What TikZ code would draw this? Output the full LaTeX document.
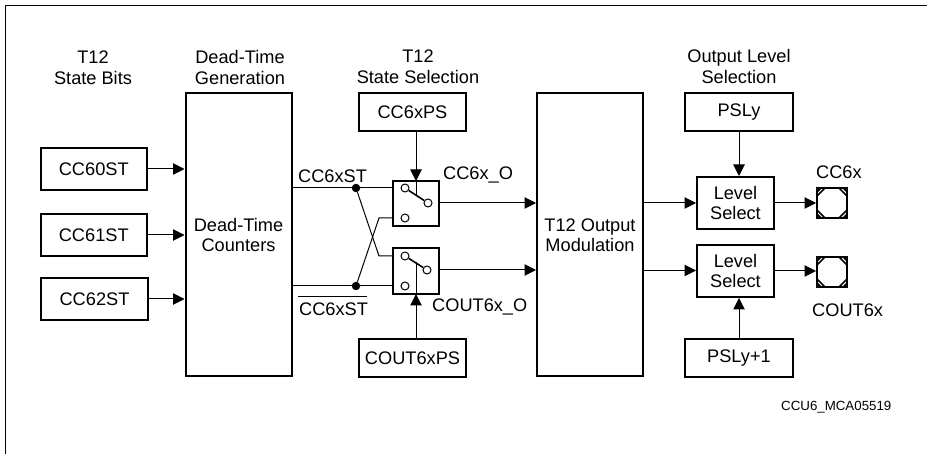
\documentclass[tikz,border=0pt]{standalone}
\usepackage{fontspec}
\setmainfont{Liberation Sans}
\usetikzlibrary{arrows.meta}
\tikzset{
  x=1pt,y=-1pt,
  lab/.style={inner sep=0pt,align=center,font=\fontsize{18.2}{20.5}\selectfont},
  box/.style={draw,line width=2pt,inner sep=0pt,font=\fontsize{18.2}{20}\selectfont,align=center},
  conn/.style={line width=1pt,-{Triangle[length=11.5pt,width=11.5pt]}},
  wire/.style={line width=1pt},
  open/.style={circle,draw,fill=white,line width=1pt,minimum size=8pt,inner sep=0pt},
  dot/.style={circle,fill=black,minimum size=8.5pt,inner sep=0pt},
}
\newcommand{\rbox}[6]{\node[box,minimum width=#4pt-#2pt,minimum height=#5pt-#3pt] (#1) at ({(#2+#4)/2},{(#3+#5)/2}) {#6};}
\begin{document}
\begin{tikzpicture}
\useasboundingbox (0,0) rectangle (927,454);
% frame
\coordinate (fa) at (5.5,454);
\coordinate (fb) at (5.5,5.5);
\coordinate (fc) at (927,5.5);
\draw[line width=1.2pt] (fa) -- (fb) -- (fc);
% headings
\node[lab] (h1) at (93,67.5) {T12\\State Bits};
\node[lab] (h2) at (240,67.5) {Dead-Time\\Generation};
\node[lab] (h3) at (418,66.5) {T12\\State Selection};
\node[lab] (h4) at (739,66.5) {Output Level\\Selection};
% boxes
\rbox{s0}{40.5}{148}{147}{190}{CC60ST}
\rbox{s1}{40.5}{214}{147}{256}{CC61ST}
\rbox{s2}{41}{278}{148}{320}{CC62ST}
\rbox{dt}{185.5}{93}{291.5}{376.5}{Dead-Time\\Counters}
\rbox{ps}{359}{93}{466}{131}{CC6xPS}
\rbox{cp}{359}{339}{466}{377}{COUT6xPS}
\rbox{om}{537}{93}{643}{376.5}{T12 Output\\Modulation}
\rbox{pl}{685}{93}{793}{131}{PSLy}
\rbox{pm}{685}{339}{793}{377}{PSLy+1}
\rbox{l1}{697}{177}{774}{229.5}{Level\\Select}
\rbox{l2}{697}{245}{774}{297}{Level\\Select}
\rbox{sw1}{393}{181}{439}{226}{}
\rbox{sw2}{393}{248}{439}{294}{}
% state arrows
\draw[conn] (s0.east |- 0,169) -- (dt.west |- 0,169);
\draw[conn] (s1.east |- 0,235) -- (dt.west |- 0,235);
\draw[conn] (s2.east |- 0,299) -- (dt.west |- 0,299);
% switch wires
\node[dot] (d1) at (356,188) {};
\node[dot] (d2) at (356,286) {};
\coordinate (a1) at (dt.east |- 0,188);
\coordinate (a2) at (dt.east |- 0,286);
\draw[wire] (a1) -- (d1) -- (sw1.west |- d1);
\draw[wire] (a2) -- (d2) -- (sw2.west |- d2);
\draw[wire] (d1) -- (379,256) -- (sw2.west |- 0,256);
\draw[wire] (d2) -- (379,218) -- (sw1.west |- 0,218);
% control arrows (line runs on into the switch)
\draw[wire] (416,181) -- (416,195);
\draw[wire] (416,294) -- (416,262);
\draw[conn] (ps.south -| 416,0) -- (416,181);
\draw[conn] (cp.north -| 416,0) -- (416,294);
% switch contacts
\node[open] (c1) at (405,188) {};
\node[open] (c2) at (428,203) {};
\node[open] (c3) at (405,218) {};
\node[open] (c4) at (405,256) {};
\node[open] (c5) at (427,270) {};
\node[open] (c6) at (405,286) {};
\draw[line width=1.6pt] (c1) -- (c2);
\draw[line width=1.6pt] (c4) -- (c5);
% to modulation
\draw[conn] (sw1.east |- 0,203) -- (om.west |- 0,203);
\draw[conn] (sw2.east |- 0,270) -- (om.west |- 0,270);
\draw[conn] (om.east |- 0,203) -- (l1.west |- 0,203);
\draw[conn] (om.east |- 0,270.5) -- (l2.west |- 0,270.5);
\draw[conn] (pl.south) -- (l1.north -| pl.south);
\draw[conn] (pm.north) -- (l2.south -| pm.north);
% pads
\foreach \n/\yy in {p1/203,p2/272}{
  \node[draw,line width=2pt,minimum size=30pt,inner sep=0pt] (\n) at (832,\yy) {};
  \draw[line width=1.6pt] (817,\yy-7) -- (825,\yy-15) (839,\yy-15) -- (847,\yy-7)
     (847,\yy+7) -- (839,\yy+15) (825,\yy+15) -- (817,\yy+7);
  \fill (817,\yy-15) -- (822,\yy-15) -- (817,\yy-10) -- cycle;
  \fill (847,\yy-15) -- (842,\yy-15) -- (847,\yy-10) -- cycle;
  \fill (817,\yy+15) -- (822,\yy+15) -- (817,\yy+10) -- cycle;
  \fill (847,\yy+15) -- (842,\yy+15) -- (847,\yy+10) -- cycle;
}
\draw[conn] (l1.east |- 0,203) -- (p1.west |- 0,203);
\draw[conn] (l2.east |- 0,271) -- (p2.west |- 0,271);
% labels
\node[lab,anchor=west] (t1) at (298,176) {CC6xST};
\node[lab,anchor=west] (t2) at (299,309) {CC6xST};
\draw[line width=1pt] (298,297) -- (367,297);
\node[lab,anchor=west] (t3) at (443,175) {CC6x\_O};
\node[lab,anchor=west] (t4) at (432,307) {COUT6x\_O};
\node[lab,anchor=west] (t5) at (816,172) {CC6x};
\node[lab,anchor=west] (t6) at (812,310) {COUT6x};
\node[inner sep=0pt,anchor=west,font=\fontsize{13.3}{16}\selectfont] (t7) at (781,407) {CCU6\_MCA05519};
\end{tikzpicture}
\end{document}
